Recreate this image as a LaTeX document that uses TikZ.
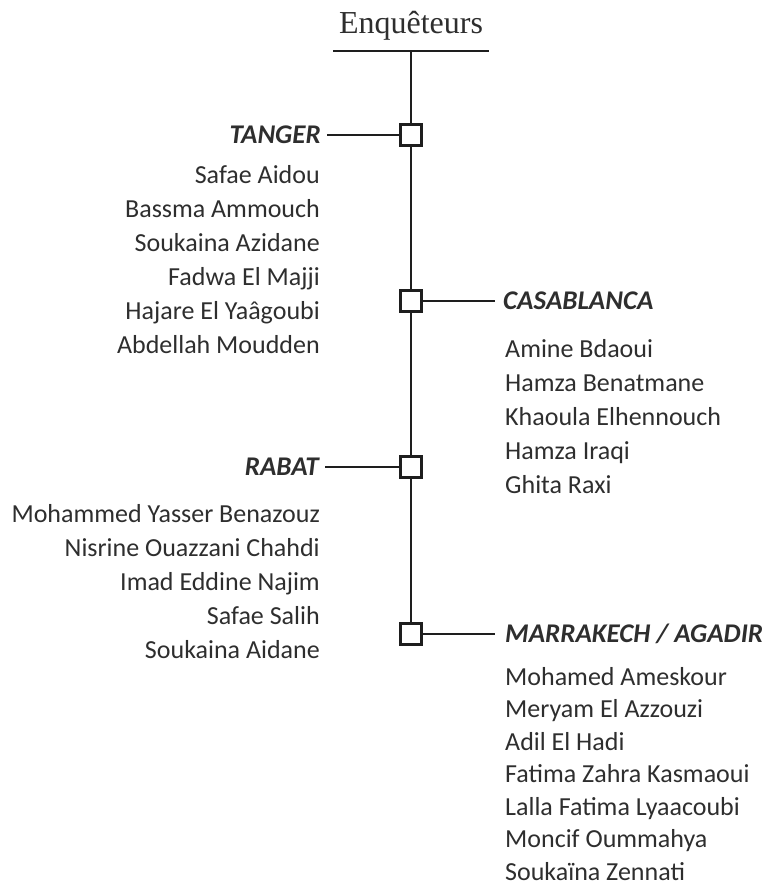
\documentclass[tikz,border=0pt]{standalone}
\usepackage{fontspec}
\setmainfont{Carlito}
\newfontfamily\titrefont{Liberation Serif}
\usepackage{xcolor}
\usetikzlibrary{positioning}
\definecolor{encre}{HTML}{2E2E2E}
\definecolor{trait}{HTML}{1E1E1E}
\tikzstyle{villebox}=[draw=trait, line width=2.4pt, fill=white, minimum size=21pt, inner sep=0pt]
\tikzstyle{ville}=[font=\fontsize{27}{31}\selectfont\bfseries\itshape, text=encre, inner sep=0pt]
\tikzstyle{nom}=[font=\fontsize{26}{30}\selectfont, text=encre, inner sep=0pt]
\tikzstyle{titre}=[font=\titrefont\fontsize{32}{36}\selectfont, text=encre, inner sep=0pt]
\tikzstyle{axe}=[draw=trait, line width=2.4pt]
\tikzstyle{lien}=[draw=trait, line width=2pt]

\begin{document}
\begin{tikzpicture}[x=1pt,y=-1pt]
	\useasboundingbox (0,0) rectangle (766,887);
	% titre
	\node[titre, anchor=base] (titre) at (411,33) {Enquêteurs};
	\coordinate (regleG) at (333,51);
	\coordinate (regleD) at (489,51);
	\coordinate (haut) at (411,51);
	\draw[axe] (regleG) -- (regleD);
	% boites
	\node[villebox] (tanger) at (411,135) {};
	\node[villebox] (casa) at (411,301) {};
	\node[villebox] (rabat) at (411,467) {};
	\node[villebox] (marrakech) at (411,634) {};
	\draw[axe] (haut) -- (tanger.north);
	\draw[axe] (tanger.south) -- (casa.north);
	\draw[axe] (casa.south) -- (rabat.north);
	\draw[axe] (rabat.south) -- (marrakech.north);
	% villes
	\node[ville, anchor=base east] (tangerlbl) at (321,143) {TANGER};
	\node[ville, anchor=base west] (casalbl) at (503,309) {CASABLANCA};
	\node[ville, anchor=base east] (rabatlbl) at (319,475) {RABAT};
	\node[ville, anchor=base west] (marrakechlbl) at (505,642) {MARRAKECH / AGADIR};
	\draw[lien] ([xshift=6pt]tangerlbl.east |- tanger.west) -- (tanger.west);
	\draw[lien] (casa.east) -- ([xshift=-8pt]casalbl.west |- casa.east);
	\draw[lien] ([xshift=6pt]rabatlbl.east |- rabat.west) -- (rabat.west);
	\draw[lien] (marrakech.east) -- ([xshift=-10pt]marrakechlbl.west |- marrakech.east);
	% noms
	\foreach \nom [count=\i from 0] in {Safae Aidou, Bassma Ammouch, Soukaina Azidane,
		Fadwa El Majji, Hajare El Yaâgoubi, Abdellah Moudden}
		\node[nom, anchor=base east] (tanger-\i) at (320,183+34*\i) {\nom};
	\foreach \nom [count=\i from 0] in {Amine Bdaoui, Hamza Benatmane, Khaoula Elhennouch,
		Hamza Iraqi, Ghita Raxi}
		\node[nom, anchor=base west] (casa-\i) at (505,357+34*\i) {\nom};
	\foreach \nom [count=\i from 0] in {Mohammed Yasser Benazouz, Nisrine Ouazzani Chahdi,
		Imad Eddine Najim, Safae Salih, Soukaina Aidane}
		\node[nom, anchor=base east] (rabat-\i) at (320,522+34*\i) {\nom};
	\foreach \nom [count=\i from 0] in {Mohamed Ameskour, Meryam El Azzouzi, Adil El Hadi,
		Fatima Zahra Kasmaoui, Lalla Fatima Lyaacoubi, Moncif Oummahya, Soukaïna Zennati}
		\node[nom, anchor=base west] (marrakech-\i) at (505,685+32.5*\i) {\nom};
\end{tikzpicture}
\end{document}
